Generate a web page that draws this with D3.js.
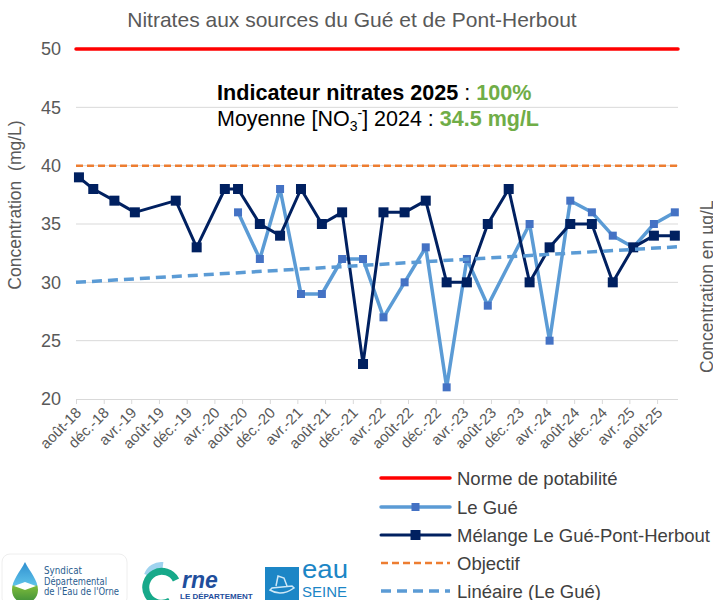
<!DOCTYPE html>
<html><head><meta charset="utf-8">
<script src="https://cdn.jsdelivr.net/npm/d3@7"></script>
<style>body{margin:0;background:#fff}svg{display:block}</style>
</head><body>
<script>
// ---- data ----
const sampleDates = ["2018-08-14","2018-10-16","2019-01-17","2019-04-17","2019-10-14","2020-01-14","2020-05-17","2020-07-14","2020-10-18","2021-01-15","2021-04-17","2021-07-18","2021-10-15","2022-01-15","2022-04-15","2022-07-17","2022-10-18","2023-01-18","2023-04-17","2023-07-18","2023-10-18","2024-01-18","2024-04-15","2024-07-15","2024-10-18","2025-01-18","2025-04-18","2025-07-18","2025-10-18"];
const melange = [39,38,37,36,37,33,38,38,35,34,38,35,36,23,36,36,37,30,30,35,38,30,33,35,35,30,33,34,34];
const leGue   = [null,null,null,null,null,null,null,36,32,38,29,29,32,32,27,30,33,21,32,28,null,35,25,37,36,34,33,35,36];
const trendDates = ["2018-08-01","2025-11-01"];
const trendValues = [30.0, 33.05];
const normeValue = 50;
const objectifValue = 40;
const tickLabels = ["août-18","déc.-18","avr.-19","août-19","déc.-19","avr.-20","août-20","déc.-20","avr.-21","août-21","déc.-21","avr.-22","août-22","déc.-22","avr.-23","août-23","déc.-23","avr.-24","août-24","déc.-24","avr.-25","août-25"];
const yTicks = [20,25,30,35,40,45,50];
const legendLabels = ["Norme de potabilité","Le Gué","Mélange Le Gué-Pont-Herbout","Objectif","Linéaire (Le Gué)"];

const W = 713, H = 600;
const parse = d3.timeParse("%Y-%m-%d");
const FONT = "Liberation Sans, Arial, sans-serif";
const svg = d3.select("body").append("svg").attr("width", W).attr("height", H)
  .style("font-family", FONT);

const axisStart = parse("2018-08-01"), axisEnd = parse("2025-11-01");
const x = d3.scaleTime().domain([axisStart, axisEnd]).range([76, 678]);
const y = d3.scaleLinear().domain([20, 50]).range([399, 49]);

// title
svg.append("text").attr("x", 352).attr("y", 27).attr("text-anchor", "middle")
  .attr("font-size", 21).attr("fill", "#595959").text("Nitrates aux sources du Gué et de Pont-Herbout");

// gridlines
svg.append("g").selectAll("line").data(yTicks.filter(v => v !== 20)).join("line")
  .attr("x1", 76).attr("x2", 678).attr("y1", d => y(d)).attr("y2", d => y(d))
  .attr("stroke", "#d9d9d9").attr("stroke-width", 1);

// y axis labels
const yAxis = d3.axisLeft(y).tickValues(yTicks).tickSize(0).tickPadding(0);
const gy = svg.append("g").attr("transform", "translate(61,0)").call(yAxis);
gy.select(".domain").remove();
gy.selectAll("text").attr("font-size", 18).attr("fill", "#595959").attr("font-family", FONT);

// x axis
const tickDates = tickLabels.map((_, i) => d3.timeMonth.offset(axisStart, 4 * i));
const xAxis = d3.axisBottom(x).tickValues(tickDates).tickSize(5).tickFormat((d, i) => tickLabels[i]);
const gx = svg.append("g").attr("transform", "translate(0,399)").call(xAxis);
gx.select(".domain").attr("stroke", "#d9d9d9").attr("d", "M76,0.5H678");
gx.selectAll(".tick line").attr("stroke", "#d9d9d9");
gx.selectAll(".tick text").attr("font-size", 15).attr("fill", "#595959").attr("font-family", FONT)
  .attr("text-anchor", "end").attr("y", null).attr("dy", "0.35em")
  .attr("transform", "translate(2,11) rotate(-45)");

// y axis titles
svg.append("text").attr("transform", "translate(21,205) rotate(-90)").attr("text-anchor", "middle")
  .attr("font-size", 17.5).attr("fill", "#595959").style("white-space", "pre").text("Concentration  (mg/L)");
svg.append("text").attr("transform", "translate(713,373) rotate(-90)").attr("text-anchor", "start")
  .attr("font-size", 17.5).attr("fill", "#595959").text("Concentration en µg/L");

// norme line
svg.append("line").attr("x1", 76).attr("x2", 678).attr("y1", y(normeValue)).attr("y2", y(normeValue))
  .attr("stroke", "#ff0000").attr("stroke-width", 3.5).attr("stroke-linecap", "round");
// objectif
svg.append("line").attr("x1", 76).attr("x2", 678).attr("y1", y(objectifValue)).attr("y2", y(objectifValue))
  .attr("stroke", "#ed7d31").attr("stroke-width", 2.5).attr("stroke-dasharray", "7,4");

// series
const line = d3.line().x(d => x(d.date)).y(d => y(d.v));
const melData = sampleDates.map((d, i) => ({date: parse(d), v: melange[i]}));
const gueData = sampleDates.map((d, i) => ({date: parse(d), v: leGue[i]})).filter(d => d.v !== null);
const trendData = trendDates.map((d, i) => ({date: parse(d), v: trendValues[i]}));

svg.append("path").datum(gueData).attr("d", line).attr("fill", "none")
  .attr("stroke", "#5b9bd5").attr("stroke-width", 3.5).attr("stroke-linejoin", "round");
svg.selectAll(".mg").data(gueData).join("rect").attr("class", "mg")
  .attr("x", d => x(d.date) - 4).attr("y", d => y(d.v) - 4).attr("width", 8).attr("height", 8).attr("fill", "#4472c4");

svg.append("path").datum(melData).attr("d", line).attr("fill", "none")
  .attr("stroke", "#002060").attr("stroke-width", 3).attr("stroke-linejoin", "round");
svg.selectAll(".mm").data(melData).join("rect").attr("class", "mm")
  .attr("x", d => x(d.date) - 5).attr("y", d => y(d.v) - 5).attr("width", 10).attr("height", 10).attr("fill", "#002060");

svg.append("path").datum(trendData).attr("d", line).attr("fill", "none")
  .attr("stroke", "#5b9bd5").attr("stroke-width", 3.5).attr("stroke-dasharray", "10,6");

// annotation
const t1 = svg.append("text").attr("x", 217).attr("y", 100).attr("font-size", 21.6).attr("fill", "#000");
t1.append("tspan").attr("font-weight", "bold").text("Indicateur nitrates 2025");
t1.append("tspan").text(" : ");
t1.append("tspan").attr("font-weight", "bold").attr("fill", "#70ad47").text("100%");
const t2 = svg.append("text").attr("x", 217).attr("y", 126).attr("font-size", 21.5).attr("fill", "#000");
t2.append("tspan").text("Moyenne [NO");
t2.append("tspan").attr("font-size", 14).attr("dy", 5).text("3");
t2.append("tspan").attr("font-size", 14).attr("dy", -13).text("-");
t2.append("tspan").attr("dy", 8).text("] 2024 : ");
t2.append("tspan").attr("font-weight", "bold").attr("fill", "#70ad47").text("34.5 mg/L");

// legend
const legY = [478, 507, 535, 563, 591];
const lg = svg.append("g");
const styles = [
  {stroke: "#ff0000", w: 3.5, dash: null, mk: null},
  {stroke: "#5b9bd5", w: 3.5, dash: null, mk: {c: "#4472c4", s: 8}},
  {stroke: "#002060", w: 3, dash: null, mk: {c: "#002060", s: 10}},
  {stroke: "#ed7d31", w: 2.5, dash: "7,4", mk: null},
  {stroke: "#5b9bd5", w: 3.5, dash: "10,6", mk: null}
];
legendLabels.forEach((lab, i) => {
  const st = styles[i];
  lg.append("line").attr("x1", 381).attr("x2", 450).attr("y1", legY[i]).attr("y2", legY[i])
    .attr("stroke", st.stroke).attr("stroke-width", st.w).attr("stroke-dasharray", st.dash)
    .attr("stroke-linecap", st.dash ? "butt" : "round");
  if (st.mk) lg.append("rect").attr("x", 415.5 - st.mk.s / 2).attr("y", legY[i] - st.mk.s / 2)
    .attr("width", st.mk.s).attr("height", st.mk.s).attr("fill", st.mk.c);
  lg.append("text").attr("x", 457).attr("y", legY[i] + 6.5).attr("font-size", 18.5).attr("fill", "#404040").text(lab);
});

// logos (approximate drawings)
const logo = svg.append("g");
// logo 1
logo.append("rect").attr("x", 2).attr("y", 554).attr("width", 125).attr("height", 52).attr("rx", 8)
  .attr("fill", "#fff").attr("stroke", "#eeeeee");
const defs = svg.append("defs");
const gr = defs.append("linearGradient").attr("id", "drop").attr("x1", 0).attr("y1", 0).attr("x2", 0).attr("y2", 1);
gr.append("stop").attr("offset", "0%").attr("stop-color", "#2f8fd0");
gr.append("stop").attr("offset", "55%").attr("stop-color", "#5cc0e8");
gr.append("stop").attr("offset", "60%").attr("stop-color", "#7ab93a");
gr.append("stop").attr("offset", "100%").attr("stop-color", "#3d8f3a");
logo.append("path").attr("d", "M25,562 C20,572 12,580 12,590 C12,598 18,603 25,603 C32,603 38,598 38,590 C38,580 30,572 25,562Z")
  .attr("fill", "url(#drop)");
logo.append("path").attr("d", "M14,586 L25,582 L36,586 L25,590Z").attr("fill", "#fff");
[["Syndicat", 38], ["Départemental", 63], ["de l'Eau de l'Orne", 75]].forEach((t, i) => {
  logo.append("text").attr("x", 44).attr("y", 574 + i * 10.5).attr("font-size", 10)
    .attr("font-family", "DejaVu Sans Condensed, DejaVu Sans, sans-serif")
    .attr("textLength", t[1]).attr("lengthAdjust", "spacingAndGlyphs")
    .attr("fill", "#2a5d8f").text(t[0]);
});
// logo 2
logo.append("path").attr("d", "M147,575 A15,15 0 0 1 163,565").attr("fill", "none").attr("stroke", "#9fd3ef").attr("stroke-width", 6);
logo.append("path").attr("d", "M176,580 A16,16 0 1 0 170,601").attr("fill", "none").attr("stroke", "#17a98a").attr("stroke-width", 7);
logo.append("text").attr("x", 182).attr("y", 588).attr("font-size", 23).attr("font-weight", "bold").attr("font-style", "italic")
  .attr("fill", "#1f4e9c").text("rne");
logo.append("text").attr("x", 180).attr("y", 599).attr("font-size", 8).attr("font-weight", "bold").attr("fill", "#1f4e9c").text("LE DÉPARTEMENT");
// logo 3
logo.append("rect").attr("x", 265).attr("y", 567).attr("width", 34).attr("height", 33).attr("fill", "#1c86c6");
logo.append("path").attr("d", "M270,590 Q281,597 294,588 L292,586 L272,588Z M276,586 L278,576 L284,578 L287,586").attr("fill", "none")
  .attr("stroke", "#cfe8f7").attr("stroke-width", 1.5);
logo.append("text").attr("x", 302).attr("y", 578).attr("font-size", 25).attr("fill", "#1c86c6")
  .attr("textLength", 46).attr("lengthAdjust", "spacingAndGlyphs").text("eau");
logo.append("text").attr("x", 302).attr("y", 597).attr("font-size", 14).attr("fill", "#1c86c6")
  .attr("textLength", 45).attr("lengthAdjust", "spacingAndGlyphs").text("SEINE");
</script>
</body></html>
